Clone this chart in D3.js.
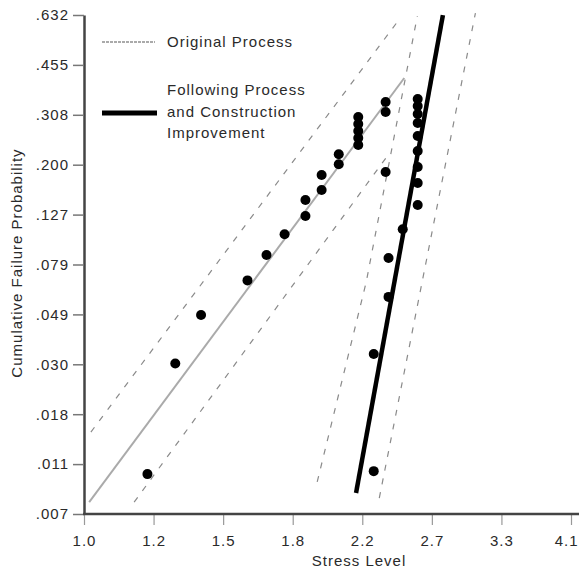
<!DOCTYPE html>
<html>
<head>
<meta charset="utf-8">
<script src="https://cdn.jsdelivr.net/npm/d3@7"></script>
<style>
	body { margin: 0; background: #fff; }
	svg text { font-family: "Liberation Sans", Arial, Helvetica, sans-serif; fill: #2a2a2a; letter-spacing: 1px; }
</style>
</head>
<body>
<div id="chart"></div>
<script>
// original process failures (stress level, cumulative failure probability)
var origStress = [1.20, 1.30, 1.40, 1.60, 1.69, 1.78, 1.89, 1.89, 1.98, 1.98, 2.08, 2.08, 2.20, 2.20, 2.20, 2.20, 2.20, 2.38, 2.38, 2.38];
var origProb = [0.0100, 0.0300, 0.0483, 0.0676, 0.0863, 0.1052, 0.1250, 0.1450, 0.1590, 0.1823, 0.2007, 0.2194, 0.2380, 0.2529, 0.2686, 0.2850, 0.3023, 0.1873, 0.3150, 0.3418];

// after process and construction improvement
var impStress = [2.30, 2.30, 2.40, 2.40, 2.50, 2.61, 2.61, 2.61, 2.61, 2.61, 2.61, 2.61, 2.61, 2.61];
var impProb = [0.0103, 0.0329, 0.0576, 0.0839, 0.1102, 0.1384, 0.1696, 0.1959, 0.2259, 0.2574, 0.2874, 0.3098, 0.3309, 0.3500];

// fitted lines and confidence bounds
var origFitStress = [1.015, 2.511];
var origFitProb = [0.00756, 0.4125];
var origUpStress = [1.020, 2.461];
var origUpProb = [0.0152, 0.6064];
var origLowStress = [1.155, 2.41];
var origLowProb = [0.00756, 0.223];

var impFitStress = [2.186, 2.806];
var impFitProb = [0.00828, 0.632];
var impLeftStress = [1.955, 2.251, 2.607];
var impLeftProb = [0.00925, 0.0666, 0.6284];
var impRightStress = [2.337, 3.081];
var impRightProb = [0.00787, 0.6394];

// axis ticks
var xTickValues = [1.0, 1.2214, 1.4918, 1.8221, 2.2255, 2.7183, 3.3201, 4.0552];
var xTickLabels = ["1.0", "1.2", "1.5", "1.8", "2.2", "2.7", "3.3", "4.1"];
var yTickValues = [0.006715, 0.011048, 0.018149, 0.029746, 0.048568, 0.078807, 0.126577, 0.199999, 0.307799, 0.454760, 0.632121];
var yTickLabels = [".007", ".011", ".018", ".030", ".049", ".079", ".127", ".200", ".308", ".455", ".632"];

var width = 579;
var height = 571;

// weibull transform for the probability axis
function weib(p) {
	return Math.log(-Math.log(1 - p));
}

var x = d3.scaleLog().domain([1, 4.0552]).range([84, 571]);
var yW = d3.scaleLinear().domain([weib(yTickValues[0]), weib(yTickValues[yTickValues.length - 1])]).range([514, 15]);
function y(p) {
	return yW(weib(p));
}

var svg = d3.select("#chart")
	.append("svg")
	.attr("width", width)
	.attr("height", height);

function zip(a, b) {
	return a.map(function (d, i) { return [d, b[i]]; });
}

var line = d3.line()
	.x(function (d) { return x(d[0]); })
	.y(function (d) { return y(d[1]); });

// dashed confidence bounds
[[origUpStress, origUpProb], [origLowStress, origLowProb], [impLeftStress, impLeftProb], [impRightStress, impRightProb]].forEach(function (s) {
	svg.append("path")
		.attr("d", line(zip(s[0], s[1])))
		.attr("fill", "none")
		.attr("stroke", "#8a8a8a")
		.attr("stroke-width", 1.2)
		.attr("stroke-dasharray", "6,8");
});

// original fit
svg.append("path")
	.attr("d", line(zip(origFitStress, origFitProb)))
	.attr("fill", "none")
	.attr("stroke", "#aaa")
	.attr("stroke-width", 2);

// improvement fit
svg.append("path")
	.attr("d", line(zip(impFitStress, impFitProb)))
	.attr("fill", "none")
	.attr("stroke", "#000")
	.attr("stroke-width", 4.5);

// points
svg.selectAll("circle.orig")
	.data(zip(origStress, origProb))
	.enter()
	.append("circle")
	.attr("class", "orig")
	.attr("cx", function (d) { return x(d[0]); })
	.attr("cy", function (d) { return y(d[1]); })
	.attr("r", 5)
	.attr("fill", "#000");

svg.selectAll("circle.imp")
	.data(zip(impStress, impProb))
	.enter()
	.append("circle")
	.attr("class", "imp")
	.attr("cx", function (d) { return x(d[0]); })
	.attr("cy", function (d) { return y(d[1]); })
	.attr("r", 5)
	.attr("fill", "#000");

// axes
var yAxis = svg.append("g")
	.attr("transform", "translate(84,0)")
	.call(d3.axisLeft(yW)
		.tickValues(yTickValues.map(weib))
		.tickFormat(function (d, i) { return yTickLabels[i]; })
		.tickSize(11)
		.tickSizeOuter(0)
		.tickPadding(4));
yAxis.select(".domain").attr("stroke", "#444").attr("stroke-width", 2.5);
yAxis.selectAll(".tick line").attr("stroke", "#777").attr("stroke-width", 1.5);
yAxis.selectAll("text").style("font-size", "15px");

var xAxis = svg.append("g")
	.attr("transform", "translate(0,514)")
	.call(d3.axisBottom(x)
		.tickValues(xTickValues)
		.tickFormat(function (d, i) { return xTickLabels[i]; })
		.tickSize(11)
		.tickSizeOuter(0)
		.tickPadding(10));
xAxis.select(".domain").remove();
xAxis.selectAll(".tick line").attr("stroke", "#999").attr("stroke-width", 1.2);
xAxis.selectAll("text").style("font-size", "15px");
// last label sits against the right edge
xAxis.selectAll(".tick text")
	.filter(function (d, i) { return i === xTickValues.length - 1; })
	.attr("text-anchor", "end")
	.attr("dx", 7);

svg.append("line")
	.attr("x1", 83)
	.attr("x2", width)
	.attr("y1", 514)
	.attr("y2", 514)
	.attr("stroke", "#444")
	.attr("stroke-width", 2.5);

// axis titles
svg.append("text")
	.attr("x", 359)
	.attr("y", 566)
	.attr("text-anchor", "middle")
	.style("font-size", "15px")
	.text("Stress Level");

svg.append("text")
	.attr("transform", "translate(22,263) rotate(-90)")
	.attr("text-anchor", "middle")
	.style("font-size", "15px")
	.text("Cumulative Failure Probability");

// legend
svg.append("line")
	.attr("x1", 102).attr("x2", 155)
	.attr("y1", 42).attr("y2", 42)
	.attr("stroke", "#aaa")
	.attr("stroke-width", 2)
	.attr("stroke-dasharray", "3,1");
svg.append("text")
	.attr("x", 167)
	.attr("y", 47)
	.style("font-size", "15px")
	.text("Original Process");

svg.append("line")
	.attr("x1", 102).attr("x2", 157)
	.attr("y1", 113).attr("y2", 113)
	.attr("stroke", "#000")
	.attr("stroke-width", 5);
var leg2 = svg.append("text")
	.attr("x", 167)
	.attr("y", 95)
	.style("font-size", "15px");
["Following Process", "and Construction", "Improvement"].forEach(function (t, i) {
	leg2.append("tspan")
		.attr("x", 167)
		.attr("dy", i === 0 ? 0 : 21.5)
		.text(t);
});
</script>
</body>
</html>
